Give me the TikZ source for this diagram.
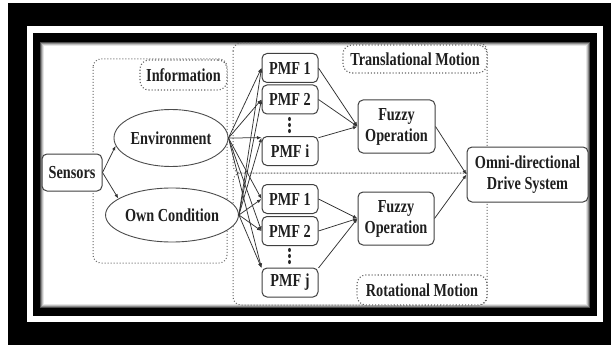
\documentclass[tikz,border=0pt]{standalone}
\usepackage{fontspec}
\setmainfont{Liberation Serif}[FakeStretch=0.78]
\usetikzlibrary{arrows.meta,shapes.geometric}
\newcommand\diagfont{\fontsize{18.3}{21}\selectfont\bfseries}
\tikzset{
  box/.style={draw=black!75, line width=1pt, rounded corners=5pt, fill=white,
    inner sep=0pt, align=center, font=\diagfont, text=black!88},
  oval/.style={ellipse, draw=black!70, line width=0.9pt, fill=white,
    inner sep=0pt, font=\diagfont, text=black!88},
  tag/.style={draw=black!60, dotted, line width=1.1pt, rounded corners=9pt,
    fill=white, inner sep=0pt, font=\diagfont, text=black!88},
  zone/.style={draw=black!60, dotted, line width=1pt, rounded corners=8pt},
  link/.style={draw=black!80, line width=0.75pt, -{Latex[length=4.5pt,width=3.5pt]}},
}
\begin{document}
\begin{tikzpicture}[x=1pt,y=-1pt]
  % frame
  \useasboundingbox (0,0) rectangle (611,345);
  \fill[white] (0,0) rectangle (611,345);
  \fill[black] (8,3) rectangle (611,345);
  \fill[white] (27,26) rectangle (603,322);
  \fill[black] (33,33) rectangle (597,316);
  \fill[white] (40,42) rectangle (590,308);
  \draw[black!70, line width=1pt] (40.5,42.5) rectangle (589.5,307.5);
  \draw[black!45, line width=1pt] (41.5,43.5) rectangle (588.5,306.5);
  \draw[black!25, line width=1pt] (42.5,44.5) rectangle (587.5,305.5);
  \draw[black!10, line width=1pt] (43.5,45.5) rectangle (586.5,304.5);

  % grouping zones
  \draw[zone] (93,59) rectangle (227,263);
  \draw[zone] (233,43) rectangle (487,173);
  \draw[zone] (233,173) rectangle (487,305);

  % zone labels
  \node[tag, minimum width=87, minimum height=30] (info) at (183.5,75) {Information};
  \node[tag, minimum width=144, minimum height=28] (trans) at (415,59) {Translational Motion};
  \node[tag, minimum width=130, minimum height=30] (rot) at (422,290) {Rotational Motion};

  % nodes
  \node[box, minimum width=60, minimum height=37] (sens) at (72,172.5) {Sensors};
  \node[oval, minimum width=104, minimum height=57] (env) at (171,138) {Environment};
  \node[oval, minimum width=112, minimum height=54] (own) at (172,215) {Own Condition};

  \node[box, minimum width=56, minimum height=29] (ta) at (290,68) {PMF 1};
  \node[box, minimum width=56, minimum height=29] (tb) at (290,99.5) {PMF 2};
  \node[box, minimum width=56, minimum height=29] (ti) at (290,151) {PMF i};
  \node[box, minimum width=56, minimum height=29] (ra) at (290,199) {PMF 1};
  \node[box, minimum width=56, minimum height=29] (rb) at (290,231) {PMF 2};
  \node[box, minimum width=56, minimum height=29] (rj) at (290,282.5) {PMF j};

  \foreach \yy in {119,125,131,250,256,262}
    \fill[black!85] (289.5,\yy) ellipse (1.4 and 2.1);

  \node[box, minimum width=77, minimum height=53] (fa) at (396.5,126.5) {Fuzzy\\Operation};
  \node[box, minimum width=76, minimum height=53] (fb) at (396,218.5) {Fuzzy\\Operation};
  \node[box, minimum width=121, minimum height=55] (omni) at (527.5,174.5)
    {Omni-directional\\Drive System};

  % connectors
  \draw[link] (sens.east) -- (env.188);
  \draw[link] (sens.east) -- (own.163);

  \foreach \src in {env.east, own.east}{
    \draw[link] (\src) -- (ta.west);
    \draw[link] (\src) -- (tb.west);
    \draw[link] (\src) -- (ti.155);
    \draw[link] (\src) -- (ra.west);
    \draw[link] (\src) -- (rb.west);
    \draw[link] (\src) -- (rj.153);
  }

  \draw[link] (ta.east) -- (fa.west);
  \draw[link] (tb.east) -- (fa.west);
  \draw[link] (ti.25) -- (fa.west);
  \draw[link] (ra.east) -- (fb.west);
  \draw[link] (rb.east) -- (fb.west);
  \draw[link] (rj.27) -- (fb.west);

  \draw[link] (fa.east) -- (omni.west);
  \draw[link] (fb.east) -- (omni.west);
\end{tikzpicture}
\end{document}
